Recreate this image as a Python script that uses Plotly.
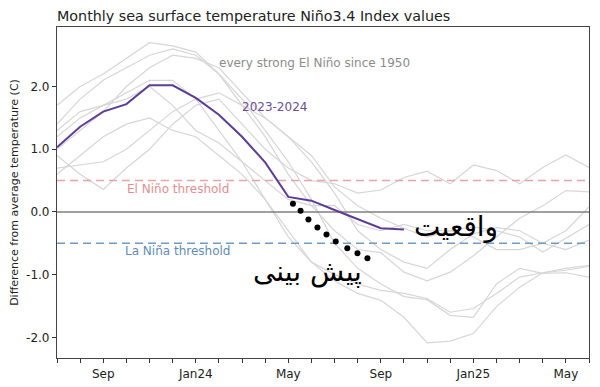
import plotly.graph_objects as go

# Month axis: Jul 2023 .. Jun 2025 (index 0..23)
months = ["Jul23","Aug23","Sep23","Oct23","Nov23","Dec23","Jan24","Feb24","Mar24","Apr24","May24","Jun24",
          "Jul24","Aug24","Sep24","Oct24","Nov24","Dec24","Jan25","Feb25","Mar25","Apr25","May25","Jun25"]
x_idx = list(range(len(months)))
tick_labels = {2: "Sep", 6: "Jan24", 10: "May", 14: "Sep", 18: "Jan25", 22: "May"}

# 2023-2024 observed Niño3.4 values (Jul 2023 .. Oct 2024)
obs_2023_24 = [1.03, 1.36, 1.60, 1.72, 2.02, 2.02, 1.82, 1.55, 1.20, 0.79, 0.24, 0.18,
               0.03, -0.11, -0.26, -0.28]

# Hand-drawn forecast dots (fractional month positions)
forecast_x = [10.2, 10.53, 10.87, 11.26, 11.65, 12.05, 12.55, 12.99, 13.42]
forecast_y = [0.13, 0.02, -0.12, -0.25, -0.36, -0.47, -0.58, -0.66, -0.74]

# Strong El Niño events since 1950 (approximate)
strong_1957 = [0.9, 0.6, 0.36, 0.7, 1.0, 1.4, 1.7, 1.8, 1.4, 1.0, 0.7, 0.5, 0.45, 0.3, 0.35, 0.55, 0.65, 0.45,
               0.75, 0.66, 0.45, 0.71, 0.91, 0.71]
strong_1965 = [1.3, 1.6, 1.7, 1.8, 2.0, 1.7, 1.3, 1.1, 0.8, 0.5, 0.2, 0.1, 0.1, -0.2, -0.3, -0.2, -0.3, -0.3,
               -0.4, -0.6, -0.6, -0.5, -0.3, 0.08]
strong_1972 = [1.2, 1.5, 1.7, 1.9, 2.1, 2.1, 1.8, 1.3, 0.8, 0.2, -0.4, -0.8, -1.1, -1.3, -1.41, -1.68, -2.09,
               -2.06, -1.94, -1.51, -1.2, -0.97, -0.9, -0.85]
strong_1982 = [1.0, 1.3, 1.6, 2.0, 2.3, 2.5, 2.45, 2.3, 1.9, 1.5, 1.2, 0.8, 0.3, -0.3, -0.6, -0.8, -0.9, -0.6,
               -0.35, -0.25, -0.3, -0.5, -0.6, -0.45]
strong_1987 = [0.6, 0.9, 1.2, 1.4, 1.5, 1.3, 1.2, 0.9, 0.6, 0.2, -0.3, -0.8, -1.0, -1.15, -1.25, -1.3, -1.38,
               -1.6, -1.54, -1.3, -1.04, -0.97, -0.93, -0.87]
strong_1991 = [0.7, 0.75, 0.8, 1.0, 1.3, 1.6, 1.8, 1.9, 1.7, 1.5, 1.2, 0.9, 0.4, 0.1, -0.1, -0.26, -0.4, -0.3,
               -0.24, -0.3, -0.4, -0.64, -0.42, -0.2]
strong_1997 = [1.7, 2.0, 2.2, 2.45, 2.7, 2.65, 2.55, 2.2, 1.8, 1.3, 0.8, 0.2, -0.5, -0.9, -1.15, -1.35, -1.4,
               -1.65, -1.68, -1.15, -0.9, -0.98, -0.97, -1.04]
strong_2015 = [1.4, 1.8, 2.1, 2.3, 2.5, 2.6, 2.5, 2.2, 1.7, 1.2, 0.6, 0.1, -0.3, -0.6, -0.65, -0.96, -1.1,
               -0.96, -0.7, -0.4, -0.1, 0.1, 0.34, 0.32]
gray_series = [strong_1957, strong_1965, strong_1972, strong_1982, strong_1987, strong_1991, strong_1997, strong_2015]

y_ticks = [-2.0, -1.0, 0.0, 1.0, 2.0]
el_nino_threshold = 0.5
la_nina_threshold = -0.5

FONT = "DejaVu Sans"
W, H = 592, 379  # page body has an 8px margin

fig = go.Figure()

for s in gray_series:
    fig.add_trace(go.Scatter(x=x_idx, y=s, mode="lines",
                             line=dict(color="#d6d6d6", width=1.2), hoverinfo="skip", showlegend=False))

# reference lines
fig.add_trace(go.Scatter(x=[x_idx[0], x_idx[-1]], y=[0, 0], mode="lines",
                         line=dict(color="#7f7f7f", width=1.5), showlegend=False))
fig.add_trace(go.Scatter(x=[x_idx[0], x_idx[-1]], y=[el_nino_threshold]*2, mode="lines",
                         line=dict(color="#e8a4a8", width=1.5, dash="8px,5px"), showlegend=False))
fig.add_trace(go.Scatter(x=[x_idx[0], x_idx[-1]], y=[la_nina_threshold]*2, mode="lines",
                         line=dict(color="#6f9cc2", width=1.5, dash="8px,5px"), showlegend=False))

fig.add_trace(go.Scatter(x=x_idx[:len(obs_2023_24)], y=obs_2023_24, mode="lines",
                         line=dict(color="#5e3c96", width=2), showlegend=False))
fig.add_trace(go.Scatter(x=forecast_x, y=forecast_y, mode="markers",
                         marker=dict(color="black", size=6), showlegend=False))

ann = [
    dict(x=11.14, y=2.37, text="every strong El Niño since 1950", color="#8c8c8c", size=12),
    dict(x=9.41, y=1.67, text="2023-2024", color="#6b4f96", size=12),
    dict(x=5.21, y=0.37, text="El Niño threshold", color="#e38e92", size=12),
    dict(x=5.21, y=-0.63, text="La Niña threshold", color="#5f8db6", size=12),
    dict(x=17.25, y=-0.24, text="واقعیت", color="black", size=28),
    dict(x=10.85, y=-0.95, text="پیش بینی", color="black", size=28),
]
for a in ann:
    fig.add_annotation(x=a["x"], y=a["y"], text=a["text"], showarrow=False,
                       xanchor="center", yanchor="middle",
                       font=dict(family=FONT, size=a["size"], color=a["color"]))

fig.update_xaxes(range=[0, 23], tickmode="array", tickvals=x_idx,
                 ticktext=[tick_labels.get(i, "") for i in x_idx],
                 ticks="outside", ticklen=4, tickcolor="#333", tickwidth=1,
                 showline=True, linecolor="#444", linewidth=1.2, mirror=True, automargin=False,
                 showgrid=False, zeroline=False, tickfont=dict(size=12, color="#222"))
fig.update_yaxes(range=[-2.33, 2.95], tickmode="array", tickvals=y_ticks,
                 ticktext=[f"{v:.1f}" for v in y_ticks],
                 ticks="outside", ticklen=4, tickcolor="#333", tickwidth=1,
                 showline=True, linecolor="#444", linewidth=1.2, mirror=True, automargin=False,
                 showgrid=False, zeroline=False, tickfont=dict(size=12, color="#222"),
                 title=dict(text="Difference from average temperature (C)", font=dict(size=11, color="#222"),
                            standoff=6))

fig.update_layout(
    width=W, height=H,
    margin=dict(l=49, r=11, t=19, b=29),
    paper_bgcolor="white", plot_bgcolor="white",
    font=dict(family=FONT, color="#222"),
    title=dict(text="Monthly sea surface temperature Niño3.4 Index values", x=49/W, xanchor="left",
               y=1 - 8/H, yanchor="middle", font=dict(size=14.3, color="#222")),
    showlegend=False,
)

fig.write_html("out.html")
